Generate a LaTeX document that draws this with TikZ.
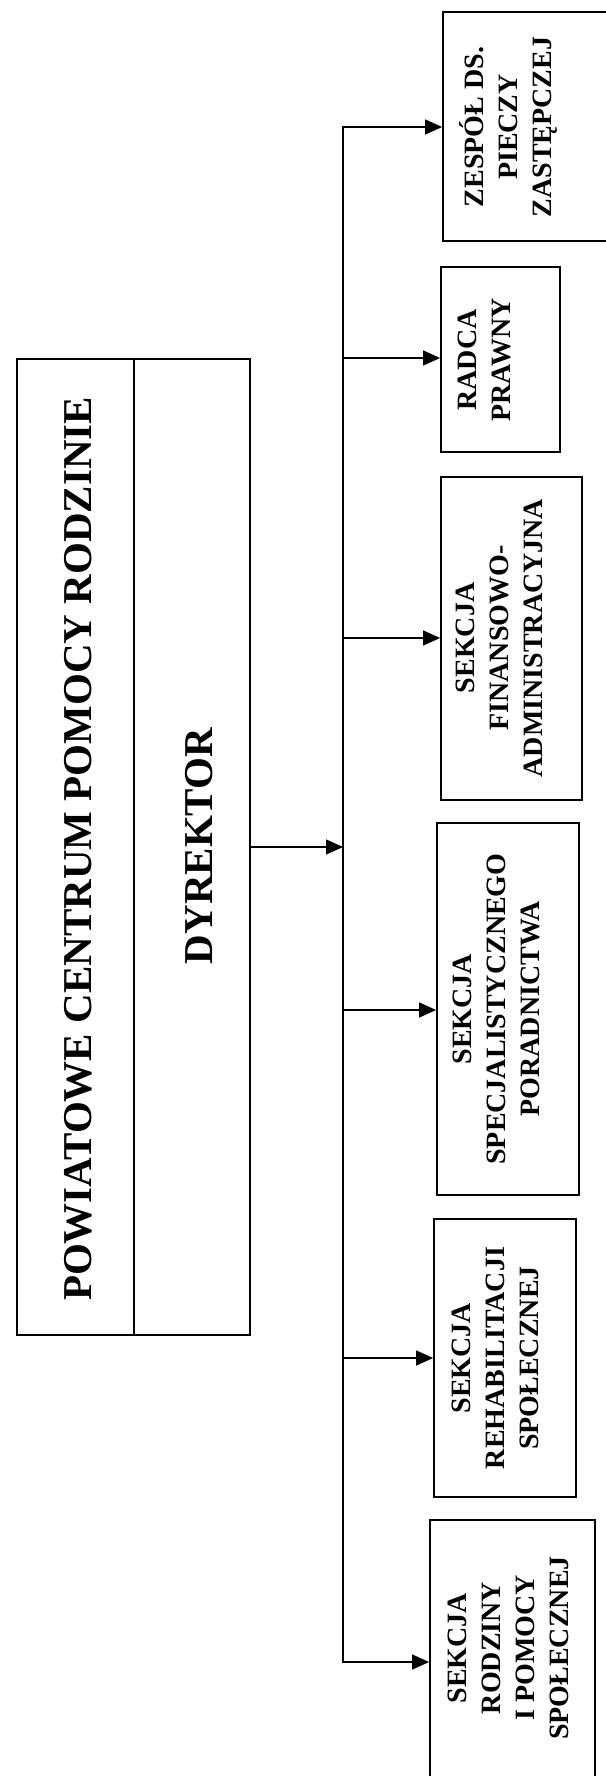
\documentclass[tikz,border=0pt]{standalone}
\usepackage{fontspec}
\setmainfont{Liberation Serif}
\usetikzlibrary{arrows.meta}
\begin{document}
\begin{tikzpicture}[x=1pt,y=-1pt,
  box/.style={draw, line width=1.8pt, rotate=90, inner sep=0pt},
  lbl/.style={rotate=90, align=center, inner sep=0pt, font=\bfseries\fontsize{28}{34}\selectfont},
  big/.style={rotate=90, inner sep=0pt, font=\bfseries\fontsize{41}{48}\selectfont},
  arr/.style={line width=1.4pt, line join=miter, -{Triangle[length=17pt,width=15pt]}}]
\useasboundingbox (0,0) rectangle (605,1776);
% main box
\node[box, minimum width=976pt, minimum height=117pt] (titlebox) at (75.5,847) {};
\node[box, minimum width=976pt, minimum height=116pt] (dyrbox) at (192,847) {};
\node[big] (titletxt) at (78,849) {POWIATOWE CENTRUM POMOCY RODZINIE};
\node[big] (dyrtxt) at (199,846) {DYREKTOR};
% section boxes
\node[box, minimum width=229pt, minimum height=165pt] (zesp) at (525.5,126.5) {};
\node[box, minimum width=185pt, minimum height=119pt] (radca) at (500.5,359.5) {};
\node[box, minimum width=323pt, minimum height=141pt] (fin) at (511.5,638.5) {};
\node[box, minimum width=372pt, minimum height=142pt] (spec) at (508,1009) {};
\node[box, minimum width=278pt, minimum height=142pt] (rehab) at (505,1358) {};
\node[box, minimum width=258pt, minimum height=165pt] (rodz) at (512.5,1649) {};
% labels
\node[lbl] (zesptxt) at (508,127) {ZESPÓŁ DS.\\PIECZY\\ZASTĘPCZEJ};
\node[lbl] (radcatxt) at (484,360) {RADCA\\PRAWNY};
\node[lbl] (fintxt) at (499,638) {SEKCJA\\FINANSOWO-\\ADMINISTRACYJNA};
\node[lbl] (spectxt) at (496,1009) {SEKCJA\\SPECJALISTYCZNEGO\\PORADNICTWA};
\node[lbl] (rehabtxt) at (495,1358) {SEKCJA\\REHABILITACJI\\SPOŁECZNEJ};
\node[lbl] (rodztxt) at (508,1648) {SEKCJA\\RODZINY\\I POMOCY\\SPOŁECZNEJ};
% connectors
\coordinate (bus) at (343,0);
\coordinate (a1) at (0,127);
\coordinate (a2) at (0,358);
\coordinate (a3) at (0,638);
\coordinate (a4) at (0,1010);
\coordinate (a5) at (0,1358);
\coordinate (a6) at (0,1662);
\coordinate (ad) at (0,847);
\draw[arr] (bus |- a6) -- (bus |- a1) -- (zesp.north |- a1);
\draw[arr] (bus |- a1) -- (bus |- a6) -- (rodz.north |- a6);
\draw[arr] (bus |- a2) -- (radca.north |- a2);
\draw[arr] (bus |- a3) -- (fin.north |- a3);
\draw[arr] (bus |- a4) -- (spec.north |- a4);
\draw[arr] (bus |- a5) -- (rehab.north |- a5);
\draw[arr] (dyrbox.south |- ad) -- (bus |- ad);
\end{tikzpicture}
\end{document}
